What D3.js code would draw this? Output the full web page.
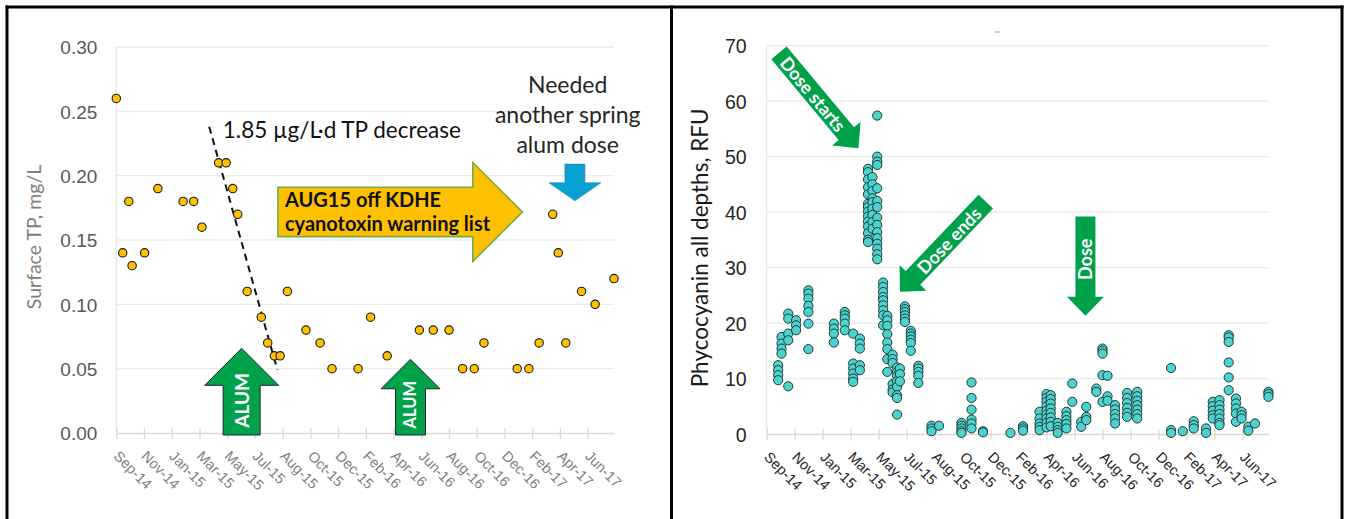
<html>
<head>
<script src="https://cdn.jsdelivr.net/npm/d3@7"></script>
<style>
    body { margin: 0; background: white; }
    svg { display: block; font-family: Lato, "Open Sans", sans-serif; }
</style>
</head>
<body>
<svg id="chart"></svg>
<script>

// axis labels, one every tick (the x values below are in tick units, 0 = Sep-14)
let monthLabels = ["Sep-14","Nov-14","Jan-15","Mar-15","May-15","Jul-15","Aug-15","Oct-15","Dec-15",
                   "Feb-16","Apr-16","Jun-16","Aug-16","Oct-16","Dec-16","Feb-17","Apr-17","Jun-17"]
let tpTicks = [0, 0.05, 0.10, 0.15, 0.20, 0.25, 0.30]
let pcTicks = [0, 10, 20, 30, 40, 50, 60, 70]

// surface total phosphorus, mg/L
let tpTimes = [0, 0.23, 0.45, 0.57, 1.02, 1.5, 2.41, 2.79, 3.09, 3.69, 3.96, 4.2, 4.38, 4.72, 5.23, 5.46, 5.7, 5.91,
               6.17, 6.84, 7.35, 7.78, 8.72, 9.17, 9.77, 10.93, 11.43, 12.0, 12.49, 12.91, 13.26, 14.46, 14.88,
               15.25, 15.74, 15.94, 16.21, 16.78, 17.27, 17.95]
let tpValues = [0.26, 0.14, 0.18, 0.13, 0.14, 0.19, 0.18, 0.18, 0.16, 0.21, 0.21, 0.19, 0.17, 0.11, 0.09, 0.07, 0.06, 0.06,
                0.11, 0.08, 0.07, 0.05, 0.05, 0.09, 0.06, 0.08, 0.08, 0.08, 0.05, 0.05, 0.07, 0.05, 0.05,
                0.07, 0.17, 0.14, 0.07, 0.11, 0.10, 0.12]

// phycocyanin, all depths of each profile, RFU
let pcTimes = [0.41, 0.53, 0.77, 1.05, 1.49, 2.40, 2.79, 3.09, 3.33, 3.62, 3.78, 3.95, 4.16, 4.31, 4.50, 4.66, 4.76,
               4.94, 5.15, 5.42, 5.89, 6.16, 6.96, 7.32, 7.73, 8.71, 9.16, 9.75, 10.0, 10.15, 10.4, 10.71, 10.92,
               11.24, 11.42, 11.78, 12.0, 12.18, 12.45, 12.88, 13.24, 14.45, 14.87, 15.26, 15.70, 15.94, 16.18,
               16.51, 16.77, 16.97, 17.21, 17.45, 17.93]
let pcValues = [
    [12.4, 11.5, 10.6, 9.7],
    [17.5, 16.3, 15.4, 14.5],
    [21.7, 20.8, 18.1, 16.9, 8.6],
    [20.5, 19.6, 18.7],
    [25.9, 25.3, 24.4, 23.1, 22.0, 19.9, 15.3],
    [19.9, 19.0, 18.1, 16.5],
    [22.0, 21.4, 20.8, 19.9, 18.7],
    [18.1, 12.7, 11.8, 10.9, 10.0, 9.4],
    [17.2, 16.3, 15.4, 12.4, 11.5],
    [47.8, 47.2, 45.9, 44.5, 43.2, 41.5, 40.9, 40.1, 39.2, 38.3, 37.4, 36.2, 35.0, 34.6],
    [46.3, 45.0, 43.8, 42.5, 41.8, 40.6, 39.5, 38.2, 37.0],
    [57.4, 50.0, 49.1, 48.5, 44.3, 42.0, 40.9, 39.0, 37.7, 36.4, 35.3, 34.3, 33.4, 32.4, 31.5],
    [27.3, 26.5, 25.6, 24.7, 24.1, 23.2, 22.3, 21.4, 19.6],
    [21.3, 20.5, 19.5, 18.0, 16.5, 15.3, 13.5, 11.2],
    [14.3, 13.5, 12.8, 9.0, 8.0, 7.5],
    [12.0, 11.2, 10.5, 9.5, 8.5, 7.0, 6.5, 3.5],
    [11.8, 10.8, 9.5],
    [23.0, 22.5, 22.0, 21.4, 20.8, 20.2],
    [18.6, 18.1, 17.6, 17.0, 16.4, 15.0],
    [12.3, 11.8, 11.2, 10.5, 9.2],
    [1.5, 1.0, 0.5],
    [1.5],
    [2.0, 1.5, 1.0, 0.5, 0.2],
    [9.3, 6.5, 4.4, 2.6, 1.9, 1.0],
    [0.5, 0.3],
    [0.2],
    [1.4, 1.0, 0.6],
    [4.0, 2.8, 1.9, 1.3, 0.7],
    [7.2, 6.5, 5.8, 5.0, 4.2, 3.5, 2.8, 2.0, 1.2],
    [7.0, 6.3, 5.5, 4.6, 3.8, 3.0, 2.2, 1.4],
    [2.0, 1.3, 0.7, 0.2],
    [4.0, 3.2, 2.5, 1.8, 1.0],
    [9.1, 5.8],
    [2.2, 1.3],
    [4.9, 3.1, 2.5],
    [8.2, 7.6],
    [15.4, 15.0, 14.5, 10.6, 5.8],
    [10.5, 6.8, 6.0],
    [5.2, 4.4, 3.6, 2.8, 1.9],
    [7.4, 6.5, 5.6, 4.7, 3.8, 3.1],
    [7.6, 6.8, 6.0, 5.2, 4.4, 3.6, 2.8],
    [11.9, 0.7, 0.2],
    [0.5],
    [2.3, 1.6, 1.0],
    [1.0, 0.2],
    [5.8, 5.0, 4.2, 3.4, 2.8],
    [6.1, 5.2, 4.4, 3.6, 2.8, 2.0, 1.6],
    [17.8, 17.4, 16.6, 12.9, 10.2, 7.9],
    [6.4, 5.5, 4.6, 3.7, 2.2],
    [4.0, 3.4, 2.8],
    [1.3, 0.6],
    [1.9],
    [7.6, 7.2, 6.7]
]

let width = 1350
let height = 519
let svg = d3.select("#chart").attr("width", width).attr("height", height)

function getPanel(left, right, top, bottom, yMax) {
    let xScale = d3.scaleLinear().domain([0, 17.95]).range([left, right])
    let yScale = d3.scaleLinear().domain([0, yMax]).range([bottom, top])
    return { left, right, top, bottom, xScale, yScale }
}

let tpPanel = getPanel(116.3, 614, 47, 433, 0.30)
let pcPanel = getPanel(766.7, 1269, 45.7, 434, 70)

function drawAxes(panel, yTicks, yFormat, style) {
    let { left, right, top, bottom, xScale, yScale } = panel

    // horizontal gridlines
    svg.append("g")
       .selectAll("line")
       .data(yTicks.slice(1))
       .enter()
       .append("line")
          .attr("x1", left).attr("x2", right)
          .attr("y1", d => yScale(d)).attr("y2", d => yScale(d))
          .attr("stroke", "#ebebeb")
          .attr("stroke-width", 1.3)

    // faint vertical axis line
    svg.append("line")
       .attr("x1", left).attr("x2", left)
       .attr("y1", top).attr("y2", bottom)
       .attr("stroke", "#e6e6e6")
       .attr("stroke-width", 1.3)

    let yAxis = d3.axisLeft(yScale)
                  .tickValues(yTicks)
                  .tickFormat(yFormat)
                  .tickSize(0)
                  .tickPadding(style.yPad)

    let gy = svg.append("g")
                .attr("transform", `translate(${left},0)`)
                .call(yAxis)
    gy.select(".domain").remove()
    gy.selectAll("text")
      .attr("fill", style.yColor)
      .style("font-size", style.ySize + "px")
      .attr("dy", "0.36em")

    let xAxis = d3.axisBottom(xScale)
                  .tickValues(d3.range(monthLabels.length))
                  .tickFormat(i => monthLabels[i])
                  .tickSizeInner(6)
                  .tickSizeOuter(0)

    let gx = svg.append("g")
                .attr("transform", `translate(0,${bottom})`)
                .call(xAxis)
    gx.select(".domain").attr("stroke", "#d9d9d9").attr("stroke-width", 1.6)
    gx.selectAll(".tick line")
      .attr("y1", -5).attr("y2", 6)
      .attr("stroke", "#d9d9d9").attr("stroke-width", 1.3)
    gx.selectAll(".tick text")
      .attr("x", 0).attr("y", 0).attr("dy", 0)
      .attr("text-anchor", "start")
      .attr("transform", "translate(-4,24) rotate(45)")
      .attr("fill", style.xColor)
      .style("font-size", style.xSize + "px")

    svg.append("text")
       .attr("transform", `translate(${style.titleX},${(top + bottom) / 2 + style.titleDy}) rotate(-90)`)
       .attr("text-anchor", "middle")
       .attr("fill", style.titleColor)
       .style("font-size", style.titleSize + "px")
       .text(style.title)
}

function arrowPoints(len, shaftW, headW, headL) {
    let s = shaftW / 2, h = headW / 2, b = len - headL
    return [[0, -s], [b, -s], [b, -h], [len, 0], [b, h], [b, s], [0, s]]
}

// arrow from (x1,y1) tail to (x2,y2) tip, optional label along the shaft
function drawArrow(x1, y1, x2, y2, shaftW, headW, headL, fill, stroke, label) {
    let len = Math.hypot(x2 - x1, y2 - y1)
    let ang = Math.atan2(y2 - y1, x2 - x1) * 180 / Math.PI
    let g = svg.append("g").attr("transform", `translate(${x1},${y1}) rotate(${ang})`)
    g.append("polygon")
     .attr("points", arrowPoints(len, shaftW, headW, headL).map(p => p.join(",")).join(" "))
     .attr("fill", fill)
     .attr("stroke", stroke ? stroke.color : "none")
     .attr("stroke-width", stroke ? stroke.width : 0)
     .attr("stroke-linejoin", "miter")
    if (label) {
        let cx = len * label.at
        g.append("text")
         .attr("transform", `translate(${cx},0) rotate(${label.flip ? 180 : 0})`)
         .attr("text-anchor", "middle")
         .attr("dominant-baseline", "central")
         .attr("fill", "white")
         .style("font-weight", "bold")
         .style("font-size", label.size + "px")
         .text(label.text)
    }
    return g
}

function drawTP() {
    let { xScale, yScale } = tpPanel
    drawAxes(tpPanel, tpTicks, d3.format(".2f"), {
        yPad: 19, yColor: "#595959", ySize: 19,
        xColor: "#7f7f7f", xSize: 14.5,
        title: "Surface TP, mg/L", titleX: 41, titleDy: -3, titleColor: "#7f7f7f", titleSize: 19.5
    })

    // alum doses
    let alum = [{ t: 4.52, tip: 0.0658, shaft: 37, head: 74, size: 19 },
                { t: 10.61, tip: 0.0573, shaft: 30, head: 59, size: 16.5 }]
    alum.forEach(a => {
        drawArrow(xScale(a.t), yScale(0) + 2, xScale(a.t), yScale(a.tip),
                  a.shaft, a.head, a.head / 2, "#00a14b", { color: "#262626", width: 1 },
                  { text: "ALUM", at: 0.4, size: a.size })
    })

    // off the warning list
    drawArrow(xScale(5.83), yScale(0.1718), xScale(14.65), yScale(0.1718),
              49.4, 98.8, 49.7, "#ffc000", { color: "#70ad47", width: 1.6 })
    let wx = xScale(5.83) + 7
    let warn = svg.append("text")
                  .attr("y", yScale(0.1718) - 5)
                  .attr("fill", "#111")
                  .style("font-weight", "bold")
                  .style("font-size", "20px")
    warn.append("tspan").attr("x", wx).attr("dy", 0).text("AUG15 off KDHE")
    warn.append("tspan").attr("x", wx).attr("dy", 24.5).text("cyanotoxin warning list")

    // spring dose needed
    drawArrow(xScale(16.54), yScale(0.209), xScale(16.54), yScale(0.1805),
              20, 52, 18, "#08a0d4", { color: "#2a7fa0", width: 0.6 })
    let needed = svg.append("text")
                    .attr("text-anchor", "middle")
                    .attr("fill", "#262626")
                    .style("font-size", "23px")
    let nx = xScale(16.28)
    needed.append("tspan").attr("x", nx).attr("y", yScale(0.264)).text("Needed")
    needed.append("tspan").attr("x", nx).attr("dy", 30).text("another spring")
    needed.append("tspan").attr("x", nx).attr("dy", 30).text("alum dose")

    // post-dose decline
    let trend = [[3.35, 0.238], [5.81, 0.049]]
    svg.append("path")
       .attr("d", d3.line().x(d => xScale(d[0])).y(d => yScale(d[1]))(trend))
       .attr("stroke", "#111")
       .attr("stroke-width", 2)
       .attr("stroke-dasharray", "7,5")
       .attr("fill", "none")

    svg.append("text")
       .attr("x", xScale(3.84))
       .attr("y", yScale(0.229))
       .attr("fill", "#111")
       .style("font-size", "22.5px")
       .text("1.85 \u00b5g/L\u00b7d TP decrease")

    let points = tpTimes.map((t, i) => ({ t, v: tpValues[i] }))
    svg.append("g")
       .selectAll("circle")
       .data(points)
       .enter()
       .append("circle")
          .attr("cx", d => xScale(d.t))
          .attr("cy", d => yScale(d.v))
          .attr("r", 4.2)
          .attr("fill", "#ffc000")
          .attr("stroke", "#1a1a1a")
          .attr("stroke-width", 1.1)
}

function drawPC() {
    let { xScale, yScale } = pcPanel
    drawAxes(pcPanel, pcTicks, d3.format("d"), {
        yPad: 20, yColor: "#262626", ySize: 19.5,
        xColor: "#262626", xSize: 14.5,
        title: "Phycocyanin all depths, RFU", titleX: 708, titleDy: 8, titleColor: "#1a1a1a", titleSize: 22.5
    })

    let points = []
    pcTimes.forEach((t, i) => pcValues[i].forEach(v => points.push({ t, v })))

    svg.append("g")
       .selectAll("circle")
       .data(points)
       .enter()
       .append("circle")
          .attr("cx", d => xScale(d.t))
          .attr("cy", d => yScale(d.v))
          .attr("r", 4.6)
          .attr("fill", "#4dd2cc")
          .attr("stroke", "#1c3a3a")
          .attr("stroke-width", 1)

    let doses = [
        { from: [0.44, 68.7], to: [3.28, 51.5], text: "Dose starts", flip: false },
        { from: [7.83, 41.9], to: [4.76, 25.65], text: "Dose ends", flip: true },
        { from: [11.39, 39.2], to: [11.39, 21.3], text: "Dose", flip: true }
    ]
    doses.forEach(d => {
        drawArrow(xScale(d.from[0]), yScale(d.from[1]), xScale(d.to[0]), yScale(d.to[1]),
                  20, 37, 19, "#00a14b", null,
                  { text: d.text, at: 0.43, size: 18, flip: d.flip })
    })

    // stray mark left from the chart title
    svg.append("line")
       .attr("x1", 995).attr("x2", 1000)
       .attr("y1", 32).attr("y2", 32)
       .attr("stroke", "#aaa").attr("stroke-width", 1.2)
}

function drawFrames() {
    let frame = svg.append("g").attr("stroke", "black").attr("stroke-width", 3)
    frame.append("line").attr("x1", 5.5).attr("x2", 1343.5).attr("y1", 7).attr("y2", 7)
    ;[7, 671.5, 1342].forEach(x => {
        frame.append("line").attr("x1", x).attr("x2", x).attr("y1", 5.5).attr("y2", height)
    })
}

drawTP()
drawPC()
drawFrames()

</script>
</body>
</html>
